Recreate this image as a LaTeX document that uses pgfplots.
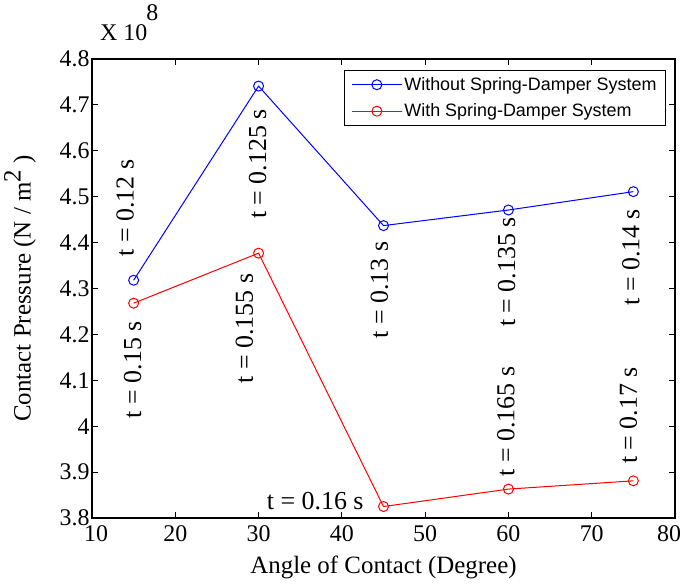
\documentclass[border=0pt]{standalone}
\usepackage{pgfplots}
\pgfplotsset{compat=1.18}
\usepackage{fontspec}
\setmainfont{Liberation Serif}
\newfontfamily\arialfont{Liberation Sans}
\usetikzlibrary{calc}
\definecolor{mblue}{RGB}{0,0,255}
\definecolor{mred}{RGB}{255,0,0}
\begin{document}
\begin{tikzpicture}
\begin{axis}[
  scale only axis, width=583bp, height=459bp,
  xmin=10, xmax=80, ymin=3.8, ymax=4.8,
  xtick={10,20,30,40,50,60,70},
  xticklabels={{\hspace{8bp}10},20,30,40,50,60,70},
  extra x ticks={80},
  extra x tick style={xticklabel style={font=\fontsize{24}{28}\selectfont, xshift=-6bp, yshift=0bp}},
  ytick={3.8,3.9,4.0,4.1,4.2,4.3,4.4,4.5,4.6,4.7,4.8},
  tick align=inside, major tick length=6bp,
  axis line style={line width=1.2bp},
  tick style={black, line width=0.8bp},
  ticklabel style={font=\fontsize{24}{28}\selectfont},
  /pgf/number format/assume math mode=true,
  yticklabel style={/pgf/number format/fixed, /pgf/number format/precision=1, xshift=1bp},
  xticklabel style={yshift=-4bp},
  xlabel={Angle of Contact (Degree)},
  ylabel={Contact Pressure (N / m\raisebox{10bp}{2} )},
  xlabel style={at={(axis description cs:0.5,0)}, anchor=center, yshift=-49bp, font=\fontsize{25}{29}\selectfont},
  ylabel style={at={(axis description cs:0,0.5)}, anchor=center, yshift=72bp, font=\fontsize{25}{29}\selectfont},
  legend style={at={(1,1)}, anchor=north east, xshift=-9bp, yshift=-11bp,
    font=\arialfont\fontsize{18}{21}\selectfont, draw=black, line width=1bp,
    inner xsep=7bp, inner ysep=5bp, row sep=8bp},
  legend cell align=left,
  legend image code/.code={\draw[#1, line width=1bp, mark=none] (0bp,0bp) -- (50bp,0bp);
     \draw[#1, line width=1bp, mark=o, mark size=5bp, only marks] plot coordinates {(25bp,0bp)};},
  clip=false,
]
\addplot[mblue, line width=1bp, mark=o, mark size=5bp] coordinates {
  (15,4.318) (30,4.741) (45,4.437) (60,4.471) (75,4.511)};
\addlegendentry{Without Spring-Damper System}
\addplot[mred, line width=1bp, mark=o, mark size=5bp] coordinates {
  (15,4.268) (30,4.377) (45,3.825) (60,3.863) (75,3.881)};
\addlegendentry{With Spring-Damper System}

\path (rel axis cs:0,0) coordinate (SW);
\path (rel axis cs:1,1) coordinate (NE);

\begin{scope}[every node/.style={font=\fontsize{26}{30}\selectfont, rotate=90, inner sep=0pt}]
\node at (axis cs:14.0,4.475) {t = 0.12 s};
\node at (axis cs:14.9,4.123) {t = 0.15 s};
\node at (axis cs:29.9,4.571) {t = 0.125 s};
\node at (axis cs:28.3,4.213) {t = 0.155 s};
\node at (axis cs:44.5,4.297) {t = 0.13 s};
\node at (axis cs:59.8,4.336) {t = 0.135 s};
\node at (axis cs:74.7,4.368) {t = 0.14 s};
\node at (axis cs:59.7,4.010) {t = 0.165 s};
\node at (axis cs:74.4,4.023) {t = 0.17 s};
\end{scope}
\node[font=\fontsize{26}{30}\selectfont, inner sep=0pt] at (axis cs:36.8,3.837) {t = 0.16 s};

\node[anchor=base west, inner sep=0pt, font=\fontsize{24}{28}\selectfont] at ($(rel axis cs:0,1)+(8bp,18bp)$) {X 10\kern-1bp\raisebox{20bp}{8}};
\end{axis}
\pgfresetboundingbox
\path[use as bounding box] ($(SW)+(-92bp,-66bp)$) rectangle ($(NE)+(10bp,59bp)$);
\end{tikzpicture}
\end{document}
